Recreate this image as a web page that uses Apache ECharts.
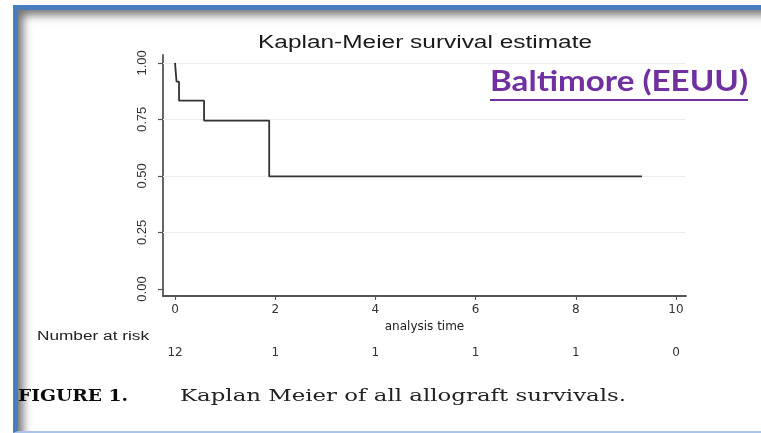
<!DOCTYPE html>
<html>
<head>
<meta charset="utf-8">
<script src="https://cdn.jsdelivr.net/npm/echarts@6/dist/echarts.min.js"></script>
<style>
  html, body { margin:0; padding:0; background:#fff; overflow:hidden; }
  #frame { position:absolute; left:13px; top:5px; width:800px; height:421px;
           border-left:5px solid #4a7dbd; border-top:5px solid #4a7dbd; border-bottom:2px solid #a9c4e8;
           box-shadow: inset 8px 8px 10px -3px rgba(0,0,0,0.55); }
  #chart { position:absolute; left:0; top:0; width:761px; height:433px; }
</style>
</head>
<body>
<div id="frame"></div>
<div id="chart"></div>
<script>
// ---- data ----
const times = [0, 0.03, 0.08, 0.58, 1.88, 9.32];
const survival = [1.0, 0.917, 0.833, 0.745, 0.498, 0.498];
const xTicks = [0, 2, 4, 6, 8, 10];
const yTicks = [0, 0.25, 0.5, 0.75, 1];
const gridLevels = [0.25, 0.5, 0.75, 1];
const riskTimes = [0, 2, 4, 6, 8, 10];
const riskCounts = [12, 1, 1, 1, 1, 0];

// ---- helpers ----
const mctx = document.createElement('canvas').getContext('2d');
function fit(text, font, target) { mctx.font = font; return target / mctx.measureText(text).width; }

const fTitle = '17.5px "Liberation Sans", Arial, sans-serif';
const fRisk = '12px "Liberation Sans", Arial, sans-serif';
const fBalt = 'bold 29px Lato, "Open Sans", sans-serif';
const fFig = 'bold 16px "DejaVu Serif", serif';
const fCap = '16px "DejaVu Serif", serif';
const tTitle = 'Kaplan-Meier survival estimate';
const tRisk = 'Number at risk';
const tBalt = 'Baltimore (EEUU)';
const tFig = 'FIGURE 1.';
const tCap = 'Kaplan Meier of all allograft survivals.';

const chart = echarts.init(document.getElementById('chart'), null, { renderer: 'canvas' });
const xMin = -0.24, xMax = 10.2, yMin = -0.031, yMax = 1.035;

chart.setOption({
  animation: false,
  grid: { left: 163, top: 55, width: 523, height: 241, containLabel: false },
  xAxis: [
    {
      type: 'value', min: xMin, max: xMax, position: 'bottom',
      name: 'analysis time', nameLocation: 'middle', nameGap: 23,
      nameTextStyle: { fontFamily: '"DejaVu Sans", sans-serif', fontSize: 12, color: '#222' },
      axisLine: { show: true, onZero: false, lineStyle: { color: '#555', width: 1.8 } },
      axisTick: { show: true, length: 4, customValues: xTicks, lineStyle: { color: '#555', width: 1.2 } },
      axisLabel: { customValues: xTicks, margin: 8, fontFamily: '"DejaVu Sans", sans-serif', fontSize: 12, color: '#333' },
      splitLine: { show: false }
    },
    {
      type: 'value', min: xMin, max: xMax, position: 'bottom', offset: 51,
      axisLine: { show: false, onZero: false }, axisTick: { show: false },
      axisLabel: {
        customValues: riskTimes, margin: 0, fontFamily: '"DejaVu Sans", sans-serif', fontSize: 12, color: '#333',
        formatter: function (v) { const i = riskTimes.indexOf(v); return i >= 0 ? String(riskCounts[i]) : ''; }
      },
      splitLine: { show: false }
    }
  ],
  yAxis: {
    type: 'value', min: yMin, max: yMax,
    axisLine: { show: true, onZero: false, lineStyle: { color: '#555', width: 1.8 } },
    axisTick: { show: true, length: 5, customValues: yTicks, lineStyle: { color: '#555', width: 1.2 } },
    axisLabel: {
      customValues: yTicks, rotate: 90, margin: 14,
      fontFamily: '"Liberation Sans", sans-serif', fontSize: 13, color: '#333',
      formatter: function (v) { return v.toFixed(2); }
    },
    splitLine: { show: false }
  },
  series: [
    {
      type: 'line', data: [], z: 1, silent: true,
      markLine: {
        z: 1, silent: true, symbol: 'none', label: { show: false },
        lineStyle: { color: '#ececec', width: 1, type: 'solid' },
        data: gridLevels.map(v => ({ yAxis: v }))
      }
    },
    {
      type: 'line', step: 'end', z: 4, symbol: 'none',
      data: times.map((t, i) => [t, survival[i]]),
      lineStyle: { color: '#333', width: 1.8 }
    }
  ],
  graphic: [
    { type: 'text', x: 425, y: 43, scaleX: fit(tTitle, fTitle, 334),
      style: { text: tTitle, font: fTitle, fill: '#1a1a1a', textAlign: 'center', textVerticalAlign: 'middle' } },
    { type: 'text', x: 37, y: 337, scaleX: fit(tRisk, fRisk, 112),
      style: { text: tRisk, font: fRisk, fill: '#222', textAlign: 'left', textVerticalAlign: 'middle' } },
    { type: 'text', x: 490, y: 82, scaleX: fit(tBalt, fBalt, 258),
      style: { text: tBalt, font: fBalt, fill: '#7030A0', textAlign: 'left', textVerticalAlign: 'middle' } },
    { type: 'line', shape: { x1: 490, y1: 100, x2: 748, y2: 100 }, style: { stroke: '#7030A0', lineWidth: 2 } },
    { type: 'text', x: 18, y: 397, scaleX: fit(tFig, fFig, 110),
      style: { text: tFig, font: fFig, fill: '#0a0a0a', textAlign: 'left', textVerticalAlign: 'middle' } },
    { type: 'text', x: 180, y: 397, scaleX: fit(tCap, fCap, 446),
      style: { text: tCap, font: fCap, fill: '#222', textAlign: 'left', textVerticalAlign: 'middle' } }
  ]
});
</script>
</body>
</html>
